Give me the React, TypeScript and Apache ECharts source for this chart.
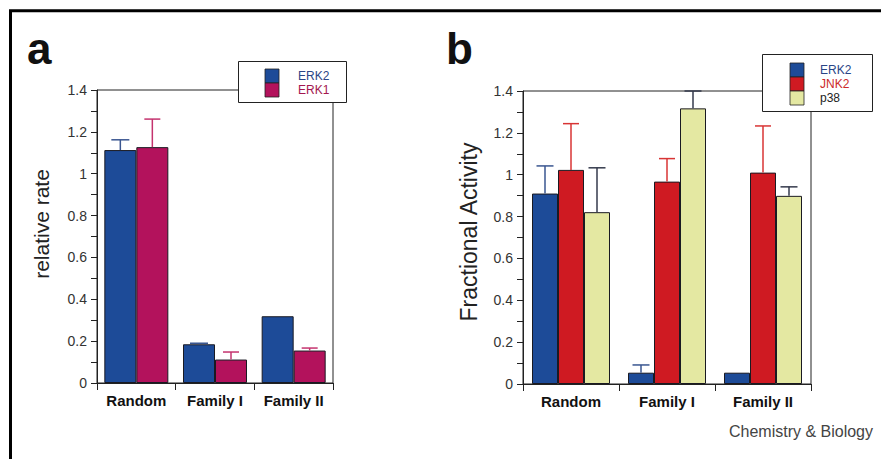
import React, { useEffect, useRef } from "react";
import * as echarts from "echarts";

const categories = ["Random", "Family I", "Family II"];

// Panel a
const namesA = ["ERK2", "ERK1"];
const erk2A = [1.113, 0.185, 0.319];
const erk2AErr: (number | null)[] = [1.162, 0.19, null];
const erk1A = [1.127, 0.112, 0.155];
const erk1AErr: (number | null)[] = [1.261, 0.148, 0.167];

// Panel b
const namesB = ["ERK2", "JNK2", "p38"];
const erk2B = [0.91, 0.054, 0.054];
const erk2BErr: (number | null)[] = [1.042, 0.091, null];
const jnk2B = [1.023, 0.967, 1.01];
const jnk2BErr: (number | null)[] = [1.244, 1.077, 1.233];
const p38B = [0.821, 1.317, 0.899];
const p38BErr: (number | null)[] = [1.033, 1.4, 0.942];

const yTicksMax = 1.4;
const yTickStep = 0.2;

const FONT = "Liberation Sans, Arial, Helvetica, sans-serif";
const C_ERK2 = "#1d4b98";
const C_ERK1 = "#b3125c";
const C_JNK2 = "#cf1a22";
const C_P38 = "#e4e8a2";
const barColorsA = [C_ERK2, C_ERK1];
const barColorsB = [C_ERK2, C_JNK2, C_P38];
const textColorsA = ["#2a4585", "#a3164f"];
const textColorsB = ["#2a4585", "#cc2a2a", "#222"];

function errData(vals: number[], errs: (number | null)[]) {
  return vals
    .map((v, i) => [i, v, errs[i]])
    .filter((d) => d[2] != null);
}

function errRender(offset: number, capW: number, color: string) {
  return (params: any, api: any) => {
    const base = api.coord([api.value(0), api.value(1)]);
    const t = api.coord([api.value(0), api.value(2)]);
    const x = base[0] + offset;
    return {
      type: "group",
      children: [
        {
          type: "line",
          shape: { x1: x, y1: base[1], x2: x, y2: t[1] },
          style: { stroke: color, lineWidth: 1.5 },
        },
        {
          type: "line",
          shape: { x1: x - capW / 2, y1: t[1], x2: x + capW / 2, y2: t[1] },
          style: { stroke: color, lineWidth: 1.5 },
        },
      ],
    };
  };
}

function yAxisCfg(gridIndex: number) {
  return {
    type: "value",
    gridIndex,
    min: 0,
    max: yTicksMax,
    interval: yTickStep,
    axisLine: { show: true, lineStyle: { color: "#222", width: 1 } },
    axisTick: { show: true, inside: false, length: 6, lineStyle: { color: "#222" } },
    minorTick: { show: true, splitNumber: 2, length: 6, lineStyle: { color: "#222" } },
    splitLine: { show: false },
    axisLabel: { color: "#333", fontSize: 14, fontFamily: FONT, margin: 10 },
  };
}

function xAxisCfg(gridIndex: number) {
  return {
    type: "category",
    gridIndex,
    data: categories,
    boundaryGap: true,
    axisLine: { show: true, lineStyle: { color: "#222", width: 1 } },
    axisTick: { show: true, inside: false, length: 7, alignWithLabel: false, lineStyle: { color: "#222" } },
    axisLabel: { color: "#111", fontSize: 15, fontWeight: "bold", fontFamily: FONT, margin: 10 },
  };
}

function legendGraphic(
  names: string[],
  colors: string[],
  textColors: string[],
  box: { x: number; y: number; w: number; h: number },
  swX: number,
  swY: number,
  txX: number
) {
  const children: any[] = [
    { type: "rect", shape: { x: box.x + 0.5, y: box.y + 0.5, width: box.w, height: box.h }, style: { fill: "#fff", stroke: "#222", lineWidth: 1 } },
  ];
  names.forEach((n, i) => {
    children.push({ type: "rect", shape: { x: swX, y: swY + i * 14, width: 14, height: 14 }, style: { fill: colors[i], stroke: "#222", lineWidth: 0.8 } });
    children.push({ type: "text", x: txX, y: swY + 6.5 + i * 14, style: { text: n, font: `12px ${FONT}`, lineHeight: 12, fill: textColors[i], textAlign: "left", textVerticalAlign: "middle" } });
  });
  return { type: "group", z: 100, children };
}

const barBorder = { borderColor: "#1a1a22", borderWidth: 1 };

export default function App() {
  const ref = useRef<HTMLDivElement>(null);
  useEffect(() => {
    if (!ref.current) return;
    const chart = echarts.init(ref.current, undefined, { renderer: "svg" });
    const bwA = 32;
    const bwB = 26;
    const dataA = [erk2A, erk1A];
    const dataB = [erk2B, jnk2B, p38B];
    chart.setOption({
      animation: false,
      backgroundColor: "#fff",
      textStyle: { fontFamily: FONT },
      grid: [
        { left: 97, top: 90, width: 236, height: 293, show: true, borderColor: "#222", borderWidth: 1, backgroundColor: "transparent", outerBoundsMode: "none" },
        { left: 523, top: 91, width: 288, height: 293, show: true, borderColor: "#222", borderWidth: 1, backgroundColor: "transparent", outerBoundsMode: "none" },
      ],
      xAxis: [xAxisCfg(0), xAxisCfg(1)],
      yAxis: [yAxisCfg(0), yAxisCfg(1)],
      series: [
        ...namesA.map((n, i) => ({ name: n, type: "bar", xAxisIndex: 0, yAxisIndex: 0, data: dataA[i], barWidth: bwA, barGap: "0%", itemStyle: { color: barColorsA[i], ...barBorder } })),
        ...namesB.map((n, i) => ({ name: n, type: "bar", xAxisIndex: 1, yAxisIndex: 1, data: dataB[i], barWidth: bwB, barGap: "0%", itemStyle: { color: barColorsB[i], ...barBorder } })),
        { name: "err-ERK2-a", type: "custom", xAxisIndex: 0, yAxisIndex: 0, z: 3, data: errData(erk2A, erk2AErr), renderItem: errRender(-bwA / 2, 18, "#3a5690") },
        { name: "err-ERK1-a", type: "custom", xAxisIndex: 0, yAxisIndex: 0, z: 3, data: errData(erk1A, erk1AErr), renderItem: errRender(bwA / 2, 16, "#c4336e") },
        { name: "err-ERK2-b", type: "custom", xAxisIndex: 1, yAxisIndex: 1, z: 3, data: errData(erk2B, erk2BErr), renderItem: errRender(-bwB, 17, "#3a5690") },
        { name: "err-JNK2-b", type: "custom", xAxisIndex: 1, yAxisIndex: 1, z: 3, data: errData(jnk2B, jnk2BErr), renderItem: errRender(0, 16, "#d83434") },
        { name: "err-p38-b", type: "custom", xAxisIndex: 1, yAxisIndex: 1, z: 3, data: errData(p38B, p38BErr), renderItem: errRender(bwB, 17, "#343a4c") },
      ],
      graphic: [
        { type: "rect", z: 100, shape: { x: 10.5, y: 10.7, width: 1000, height: 1000 }, style: { fill: "none", stroke: "#000", lineWidth: 3 } },
        legendGraphic(namesA, barColorsA, textColorsA, { x: 238, y: 61, w: 108, h: 41 }, 265, 69, 298),
        legendGraphic(namesB, barColorsB, textColorsB, { x: 762, y: 54, w: 110, h: 57 }, 790, 63, 820),
        { type: "text", z: 100, x: 27, y: 48, style: { text: "a", font: `bold 44px ${FONT}`, fill: "#111", textAlign: "left", textVerticalAlign: "middle" } },
        { type: "text", z: 100, x: 446, y: 48, style: { text: "b", font: `bold 44px ${FONT}`, fill: "#111", textAlign: "left", textVerticalAlign: "middle" } },
        { type: "text", z: 100, x: 41, y: 224, rotation: Math.PI / 2, style: { text: "relative rate", font: `21px ${FONT}`, fill: "#222", textAlign: "center", textVerticalAlign: "middle" } },
        { type: "text", z: 100, x: 469, y: 232, rotation: Math.PI / 2, style: { text: "Fractional Activity", font: `23px ${FONT}`, fill: "#222", textAlign: "center", textVerticalAlign: "middle" } },
        { type: "text", z: 100, x: 873, y: 431, style: { text: "Chemistry & Biology", font: `16px ${FONT}`, fill: "#444", textAlign: "right", textVerticalAlign: "middle" } },
      ],
    });
    return () => chart.dispose();
  }, []);
  return <div ref={ref} style={{ position: "fixed", left: 0, top: 0, width: 881, height: 459 }} />;
}
